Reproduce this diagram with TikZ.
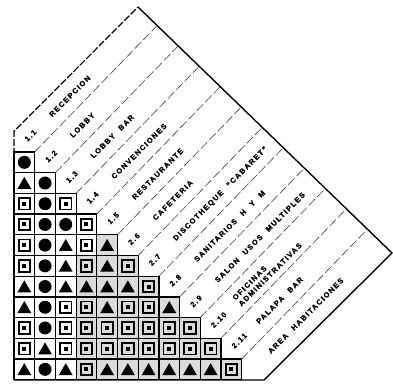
\documentclass[tikz,border=0pt]{standalone}
\usepackage{fontspec}
\setmainfont{Liberation Sans}
\newfontfamily\lblfont[LetterSpace=18,WordSpace=2.3,FakeBold=1.2]{Liberation Sans Bold}
\usetikzlibrary{calc,shapes.geometric}
\tikzset{
 cellbox/.style={draw=black, line width=1.2pt, rectangle, minimum size=20.7pt, inner sep=0pt, outer sep=0pt},
 symc/.style={circle, fill=black, minimum size=13pt, inner sep=0pt},
 symt/.style={regular polygon, regular polygon sides=3, fill=black, minimum size=16pt, inner sep=0pt, yshift=-1.8pt},
 symq/.style={rectangle, draw=black, line width=1.8pt, minimum size=11.5pt, inner sep=0pt,
   path picture={\fill[black] ([xshift=-2pt,yshift=-2pt]path picture bounding box.center) rectangle ([xshift=2pt,yshift=2pt]path picture bounding box.center);}},
 frameline/.style={line width=1.4pt, black},
 topline/.style={line width=1.2pt, black, dash pattern=on 7pt off 2pt},
 bandline/.style={line width=0.6pt, black!75, dash pattern=on 9pt off 3pt},
 lbl/.style={font=\lblfont\fontsize{7.4}{8.6}\selectfont, rotate=45, anchor=west, inner sep=0pt, align=left},
}
\begin{document}
\begin{tikzpicture}[x=1pt,y=-1pt]
\useasboundingbox (0,0) rectangle (393,387);
\def\s{20.7}
\foreach \r in {0,...,12} \coordinate (P\r) at ({14+\s*\r},{152+\s*(\r-1)});
\coordinate (T) at (138,7);
\coordinate (R) at (392,253);
\coordinate (B) at (264,380);
\coordinate (L) at (14,380);
% frame
\draw[topline] (L) -- (P0) -- (T);
\draw[frameline] (T) -- (R) -- (B) -- (L);
% band lines
\foreach \r in {1,...,11} {
  \coordinate (E\r) at ($(T)!(P\r)!(R)$);
  \draw[bandline] (P\r) -- (E\r);
}
% matrix cells
\foreach \r/\lst in {1/{c},2/{t,c},3/{q,c,q},4/{q,c,c,q},5/{q,c,t,q,t},6/{q,c,t,q,t,q},
  7/{t,c,t,t,t,t,q},8/{t,c,q,q,t,q,q,t},9/{q,c,q,q,q,q,q,q,q},10/{q,t,q,q,q,q,q,q,q,q},
  11/{t,c,t,q,t,t,t,t,t,t,q}} {
  \foreach \sym [count=\c] in \lst {
    \pgfmathtruncatemacro\shade{(\c>4 || (\c==4 && \r>5)) ? 28 : 0}
    \node[cellbox, fill=gray!\shade] (cell\r-\c) at ({14+\s*(\c-0.5)},{152+\s*(\r-0.5)}) {};
    \node[sym\sym] (sym\r-\c) at (cell\r-\c) {};
  }
}
% labels
\foreach \k/\num/\name in {1/1.1/RECEPCION,2/1.2/LOBBY,3/1.3/LOBBY BAR,4/1.4/CONVENCIONES,
  5/1.5/RESTAURANTE,6/2.6/CAFETERIA,7/2.7/{DISCOTHEQUE “CABARET”},8/2.8/SANITARIOS H Y M,
  9/2.9/SALON USOS MULTIPLES,10/2.10/{OFICINAS\\ADMINISTRATIVAS},11/2.11/PALAPA BAR} {
  \coordinate (M\k) at ({14+\s*(\k-0.5)},{152+\s*(\k-1.5)});
  \node[lbl] (num\k) at ($(M\k)+(1.4,-1.4)$) {\num};
  \node[lbl] (name\k) at ($(M\k)+(26,-26)$) {\name};
}
\coordinate (M12) at ({14+\s*11.5},{152+\s*10.5});
\node[lbl] (name12) at ($(M12)+(17,-17)$) {AREA HABITACIONES};
\end{tikzpicture}
\end{document}
